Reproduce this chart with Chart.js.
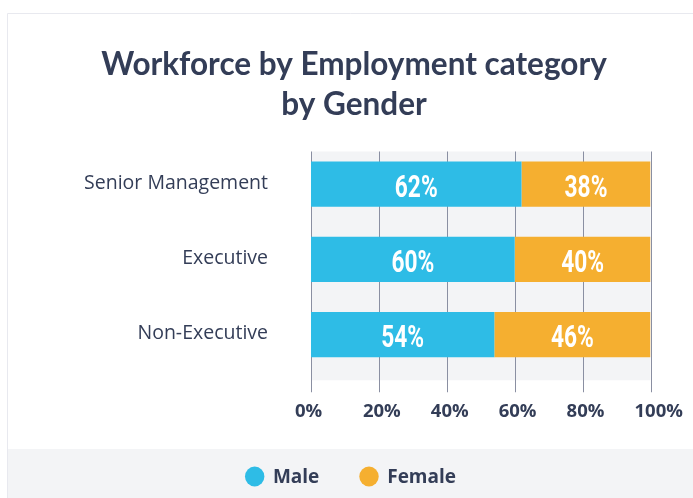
<!DOCTYPE html>
<html>
<head>
<meta charset="utf-8">
<script src="https://cdn.jsdelivr.net/npm/chart.js@4.4.1/dist/chart.umd.min.js"></script>
<style>
  html, body { margin: 0; padding: 0; background: #ffffff; }
  #wrap { position: relative; width: 693px; height: 498px; }
  canvas { display: block; }
</style>
</head>
<body>
<div id="wrap"><canvas id="c" width="693" height="498"></canvas></div>
<script>
// ---- data ----
const categories = ['Senior Management', 'Executive', 'Non-Executive'];
const maleValues = [62, 60, 54];
const femaleValues = [38, 40, 46];
const seriesNames = ['Male', 'Female'];
const xTickValues = [0, 20, 40, 60, 80, 100];
const titleLines = ['Workforce by Employment category', 'by Gender'];

// ---- style ----
const TEXT = '#333d57';
const CYAN = '#2ebce6';
const ORANGE = '#f5af30';
const PANEL = '#f3f4f6';
const GRID = '#8a8fa2';
const CARD_LINE = '#e8e9ef';

const backgroundPlugin = {
  id: 'cardBg',
  beforeDraw(chart) {
    const ctx = chart.ctx;
    const W = chart.width, H = chart.height;
    ctx.save();
    ctx.fillStyle = '#ffffff';
    ctx.fillRect(0, 0, W, H);
    ctx.strokeStyle = CARD_LINE;
    ctx.lineWidth = 1;
    ctx.beginPath();
    ctx.moveTo(7.5, H); ctx.lineTo(7.5, 13.5); ctx.lineTo(W, 13.5);
    ctx.stroke();
    ctx.fillStyle = PANEL;
    ctx.fillRect(8, 449, W - 8, H - 449);
    ctx.restore();
  },
  beforeDatasetsDraw(chart) {
    const ctx = chart.ctx;
    const a = chart.chartArea;
    const xs = chart.scales.x;
    ctx.save();
    ctx.fillStyle = PANEL;
    ctx.fillRect(a.left, a.top + 5, a.right - a.left, a.bottom - a.top + 3);
    ctx.strokeStyle = GRID;
    ctx.lineWidth = 1;
    xTickValues.forEach(v => {
      const px = Math.round(xs.getPixelForValue(v)) + 0.5;
      ctx.beginPath();
      ctx.moveTo(px, a.top + 5);
      ctx.lineTo(px, a.bottom + 20);
      ctx.stroke();
    });
    ctx.restore();
  },
  afterDatasetsDraw(chart) {
    const ctx = chart.ctx;
    ctx.save();
    ctx.fillStyle = '#ffffff';
    ctx.font = 'bold 32px Roboto';
    ctx.textAlign = 'center';
    ctx.textBaseline = 'alphabetic';
    chart.data.datasets.forEach((ds, di) => {
      const meta = chart.getDatasetMeta(di);
      meta.data.forEach((bar, i) => {
        const cx = (bar.x + bar.base) / 2;
        ctx.save();
        ctx.translate(cx, bar.y + 12.5);
        ctx.scale(0.71, 1);
        ctx.fillText(ds.data[i] + '%', 0, 0);
        ctx.restore();
      });
    });
    ctx.restore();
  },
  afterDraw(chart) {
    const ctx = chart.ctx;
    ctx.save();
    ctx.font = 'bold 19px "Open Sans"';
    ctx.textBaseline = 'middle';
    ctx.textAlign = 'left';
    const r = 9.7, gapText = 8.5, gapItem = 40;
    const items = chart.data.datasets.map(ds => ({ label: ds.label, color: ds.backgroundColor }));
    let total = 0;
    items.forEach((it, i) => {
      it.w = 2 * r + gapText + ctx.measureText(it.label).width;
      total += it.w + (i ? gapItem : 0);
    });
    let x = (8 + chart.width) / 2 - total / 2;
    const y = 476.5;
    items.forEach(it => {
      ctx.fillStyle = it.color;
      ctx.beginPath();
      ctx.ellipse(x + r, y, r, r + 0.3, 0, 0, Math.PI * 2);
      ctx.fill();
      ctx.fillStyle = TEXT;
      ctx.fillText(it.label, x + 2 * r + gapText, y + 1);
      x += it.w + gapItem;
    });
    ctx.restore();
  }
};

new Chart(document.getElementById('c'), {
  type: 'bar',
  data: {
    labels: categories,
    datasets: [
      { label: seriesNames[0], data: maleValues, backgroundColor: CYAN },
      { label: seriesNames[1], data: femaleValues, backgroundColor: ORANGE }
    ]
  },
  options: {
    indexAxis: 'y',
    responsive: false,
    animation: false,
    layout: { padding: { left: 57.5, right: 42.5, top: 0, bottom: 77 } },
    datasets: { bar: { barPercentage: 0.6, categoryPercentage: 1, borderWidth: 0 } },
    plugins: {
      legend: { display: false },
      tooltip: { enabled: false },
      title: {
        display: true,
        text: titleLines,
        color: TEXT,
        font: { family: 'Lato', size: 31.5, weight: 'bold', lineHeight: 1.25 },
        padding: { top: 45.5, bottom: 22.25 }
      }
    },
    scales: {
      x: {
        stacked: true,
        min: 0, max: 100,
        afterBuildTicks(scale) { scale.ticks = xTickValues.map(v => ({ value: v })); },
        grid: { display: false, drawTicks: false },
        border: { display: false },
        ticks: {
          padding: 28.5,
          align: 'start',
          labelOffset: -16,
          color: TEXT,
          font: { family: 'Open Sans', size: 18.5, weight: 'bold', lineHeight: 1.2 },
          callback: v => v + '%',
          maxRotation: 0
        },
        afterFit(scale) { scale.height = 48.75; scale.paddingLeft = 0; scale.paddingRight = 0; }
      },
      y: {
        stacked: true,
        grid: { display: false, drawTicks: false },
        border: { display: false },
        ticks: {
          padding: 43,
          labelOffset: -1,
          color: TEXT,
          font: { family: 'Open Sans', size: 19.5, lineHeight: 1.2 }
        },
        afterFit(scale) { scale.width = 253.5; scale.paddingTop = 0; scale.paddingBottom = 0; }
      }
    }
  },
  plugins: [backgroundPlugin]
});
</script>
</body>
</html>
